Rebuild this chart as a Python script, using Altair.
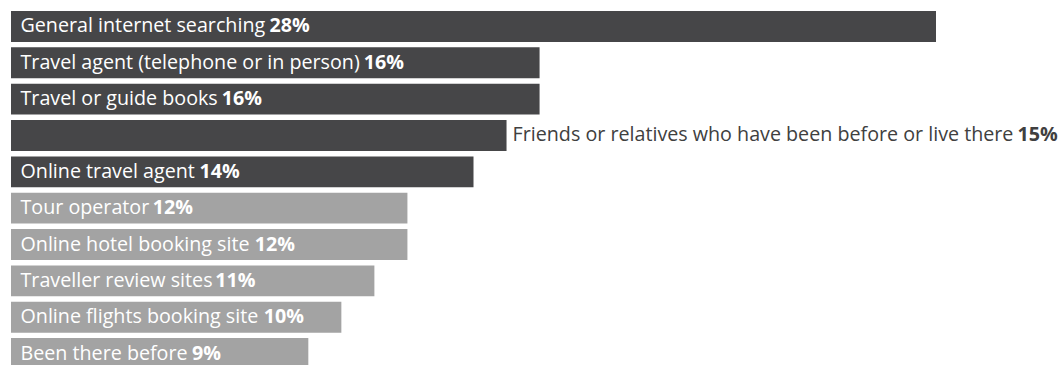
import altair as alt
import pandas as pd
import glob, os

categories = [
    "General internet searching",
    "Travel agent (telephone or in person)",
    "Travel or guide books",
    "Friends or relatives who have been before or live there",
    "Online travel agent",
    "Tour operator",
    "Online hotel booking site",
    "Traveller review sites",
    "Online flights booking site",
    "Been there before",
]
values = [28, 16, 16, 15, 14, 12, 12, 11, 10, 9]
groups = ["top", "top", "top", "top", "top", "other", "other", "other", "other", "other"]
label_inside = [True, True, True, False, True, True, True, True, True, True]

FONT = "Open Sans"
SIZE = 19.7
PX_PER_PCT = 925 / 28.0
PLOT_W = 1048
PLOT_H = 354
DARK = "#464648"
LIGHT = "#a3a3a3"

ARIAL = dict(zip("abcdefghijklmnopqrstuvwxyz",
                 [556,556,500,556,556,278,556,556,222,222,500,222,833,556,556,556,556,333,500,278,556,500,722,500,500,500]))
ARIAL.update(dict(zip("ABCDEFGHIJKLMNOPQRSTUVWXYZ",
                      [667,667,722,722,667,611,778,722,278,500,667,556,833,722,778,667,778,722,667,611,722,667,944,667,667,611])))
ARIAL.update({" ": 278, "(": 333, ")": 333, "%": 889})
for d in "0123456789":
    ARIAL[d] = 556


def approx_width(s, size):
    return sum(ARIAL.get(c, 556) for c in s) / 1000.0 * size * 1.07


def make_measure():
    try:
        from PIL import ImageFont
    except Exception:
        return None
    files = []
    for root in ["/usr/share/fonts", "/usr/local/share/fonts",
                 os.path.expanduser("~/.fonts"), os.path.expanduser("~/.local/share/fonts")]:
        files += glob.glob(root + "/**/*.ttf", recursive=True)
        files += glob.glob(root + "/**/*.otf", recursive=True)
    key = FONT.lower().replace(" ", "")
    cand = [f for f in files if key in os.path.basename(f).lower().replace("-", "").replace("_", "")]
    reg = [f for f in cand if os.path.basename(f).lower().endswith("regular.ttf")
           and "cond" not in f.lower() and "semi" not in f.lower()]
    if not reg:
        return None
    try:
        fr = ImageFont.truetype(reg[0], SIZE)
    except Exception:
        return None
    return lambda s: fr.getlength(s)


measure = make_measure()
if measure is None:
    measure = lambda s: approx_width(s, SIZE)

pct_text = [f"{v}%" for v in values]
name_w = [measure(c + " ") for c in categories]

df = pd.DataFrame({
    "category": categories,
    "value": values,
    "group": groups,
    "inside": label_inside,
    "pct": pct_text,
    "name_w": name_w,
})

y_enc = alt.Y("category:N", sort=categories, axis=None,
              scale=alt.Scale(range=[0, 358], paddingInner=0.15, paddingOuter=0))
x_scale = alt.Scale(domain=[0, PLOT_W / PX_PER_PCT], nice=False, zero=True)

base = alt.Chart(df)

bars = base.mark_bar(clip=True).encode(
    x=alt.X("value:Q", scale=x_scale, axis=None),
    y=y_enc,
    color=alt.Color("group:N", scale=alt.Scale(domain=["top", "other"], range=[DARK, LIGHT]), legend=None),
)

INSIDE_OFF = 9.5
OUTSIDE_OFF = 6

txt = base.transform_calculate(
    tx="datum.inside ? 0 : datum.value",
    off=f"datum.inside ? {INSIDE_OFF} : {OUTSIDE_OFF}",
).transform_calculate(
    nx=f"datum.tx + datum.off / {PX_PER_PCT}",
    px=f"datum.tx + (datum.off + datum.name_w) / {PX_PER_PCT}",
)

name_lbl = txt.mark_text(align="left", baseline="middle", font=FONT, fontSize=SIZE, clip=True).encode(
    x=alt.X("nx:Q", scale=x_scale),
    y=y_enc,
    text="category:N",
    color=alt.condition("datum.inside", alt.value("white"), alt.value("#404040")),
)
pct_lbl = txt.mark_text(align="left", baseline="middle", font=FONT, fontSize=SIZE, fontWeight="bold", clip=True).encode(
    x=alt.X("px:Q", scale=x_scale),
    y=y_enc,
    text="pct:N",
    color=alt.condition("datum.inside", alt.value("white"), alt.value("#404040")),
)

chart = alt.layer(bars, name_lbl, pct_lbl).properties(
    width=PLOT_W, height=PLOT_H,
    padding={"left": 11, "top": 11, "right": 0, "bottom": 0},
    autosize=alt.AutoSizeParams(type="none"),
).configure_view(stroke=None)

chart.save("out.html", embed_options={"renderer": "svg", "actions": False})
